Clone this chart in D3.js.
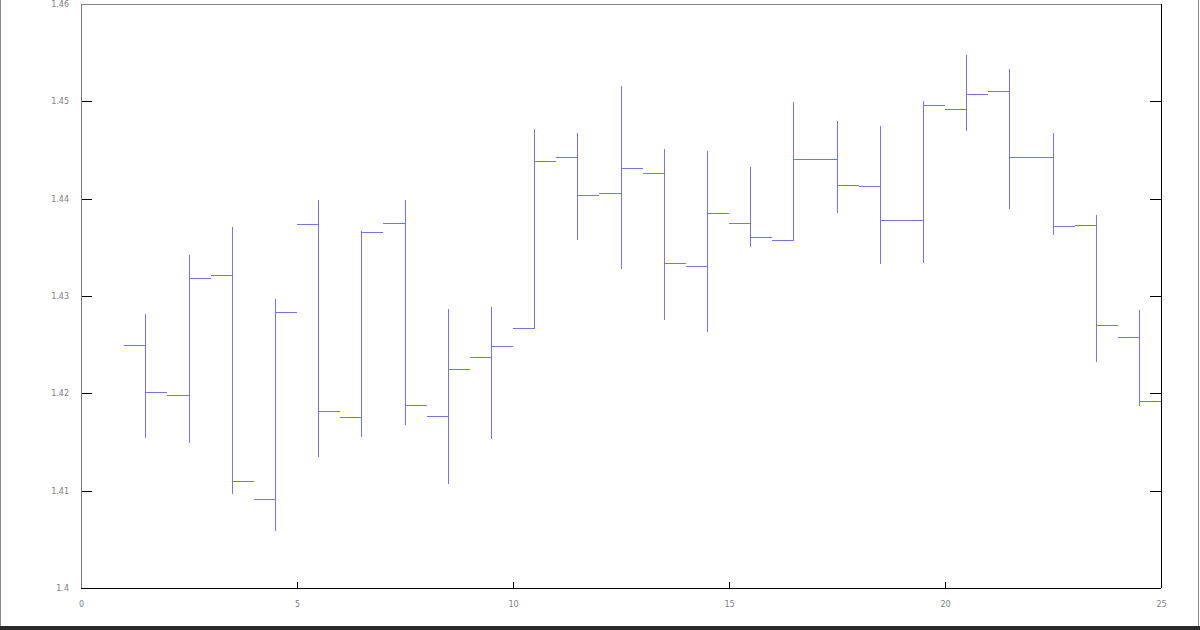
<html>
<head>
  <meta charset="utf-8">
  <title>OHLC bars</title>
  <script src="https://d3js.org/d3.v7.min.js"></script>
  <style>
    body { margin: 0; background: #fff; }
    .axis text { font-family: "DejaVu Sans", sans-serif; font-size: 8px; fill: #808080; }
    .axis path { display: none; }
    .axis line { stroke: #000; shape-rendering: crispEdges; }
  </style>
</head>
<body>
  <svg id="chart" width="1200" height="630"></svg>
  <script>
    // one bar per day: open tick on the left, close tick on the right
    var days  = [1, 2, 3, 4, 5, 6, 7, 8, 9, 10, 11, 12, 13, 14, 15, 16, 17, 18, 19, 20, 21, 22, 23, 24];
    var open  = [1.4249, 1.4198, 1.4321, 1.4091, 1.4373, 1.4175, 1.4374, 1.4176, 1.4237, 1.4267, 1.4442, 1.4405,
                 1.4426, 1.4330, 1.4375, 1.4357, 1.4440, 1.4413, 1.4378, 1.4492, 1.4510, 1.4442, 1.4372, 1.4257];
    var high  = [1.4281, 1.4342, 1.4371, 1.4297, 1.4399, 1.4367, 1.4399, 1.4287, 1.4289, 1.4472, 1.4467, 1.4516,
                 1.4451, 1.4449, 1.4433, 1.4499, 1.4480, 1.4475, 1.4500, 1.4548, 1.4533, 1.4467, 1.4383, 1.4286];
    var low   = [1.4154, 1.4149, 1.4097, 1.4059, 1.4135, 1.4155, 1.4167, 1.4107, 1.4153, 1.4267, 1.4358, 1.4328,
                 1.4275, 1.4263, 1.4350, 1.4357, 1.4385, 1.4333, 1.4334, 1.4470, 1.4389, 1.4363, 1.4232, 1.4187];
    var close = [1.4201, 1.4318, 1.4109, 1.4283, 1.4181, 1.4365, 1.4187, 1.4224, 1.4248, 1.4438, 1.4403, 1.4431,
                 1.4333, 1.4385, 1.4360, 1.4440, 1.4414, 1.4378, 1.4496, 1.4507, 1.4442, 1.4371, 1.4270, 1.4192];

    var xTicks = [0, 5, 10, 15, 20, 25];
    var yTicks = [1.4, 1.41, 1.42, 1.43, 1.44, 1.45, 1.46];
    var yTickLabels = ["1.4", "1.41", "1.42", "1.43", "1.44", "1.45", "1.46"];

    var data = days.map(function (d, i) {
      return { day: d, open: open[i], high: high[i], low: low[i], close: close[i] };
    });

    var margin = { top: 4, right: 39, bottom: 42, left: 81 },
      width = 1200 - margin.left - margin.right,
      height = 630 - margin.top - margin.bottom;

    var svg = d3.select("#chart");

    // outer window edges
    svg.append("line").attr("x1", 0.5).attr("x2", 0.5).attr("y1", 0).attr("y2", 626)
      .attr("stroke", "#8a8a8a");
    svg.append("line").attr("x1", 1198.5).attr("x2", 1198.5).attr("y1", 0).attr("y2", 626)
      .attr("stroke", "#8a8a8a");
    svg.append("rect").attr("x", 0).attr("y", 626).attr("width", 1200).attr("height", 4)
      .attr("fill", "#2a2a2a");

    var chart = svg.append("g")
      .attr("transform", "translate(" + margin.left + "," + margin.top + ")");

    var xScale = d3.scaleLinear().domain([0, 25]).range([0, width]);
    var yScale = d3.scaleLinear().domain([1.4, 1.46]).range([height, 0]);

    chart.append("g")
      .attr("class", "axis axis-y")
      .call(d3.axisLeft(yScale).tickValues(yTicks).tickSize(-11).tickPadding(12)
        .tickFormat(function (d, i) { return yTickLabels[i]; }));

    chart.append("g")
      .attr("class", "axis axis-y2")
      .attr("transform", "translate(" + width + ",0)")
      .call(d3.axisRight(yScale).tickValues(yTicks).tickSize(-11).tickFormat(""));

    chart.append("g")
      .attr("class", "axis axis-x")
      .attr("transform", "translate(0," + height + ")")
      .call(d3.axisBottom(xScale).tickValues(xTicks).tickSize(-6).tickPadding(13)
        .tickFormat(d3.format("d")));

    // frame
    var frame = chart.append("g").attr("shape-rendering", "crispEdges");
    frame.append("line").attr("x1", 0).attr("x2", width).attr("y1", 0).attr("y2", 0).attr("stroke", "#888");
    frame.append("line").attr("x1", 0).attr("x2", 0).attr("y1", 0).attr("y2", height).attr("stroke", "#777");
    frame.append("line").attr("x1", 0).attr("x2", width).attr("y1", height).attr("y2", height).attr("stroke", "#000");
    frame.append("line").attr("x1", width).attr("x2", width).attr("y1", 0).attr("y2", height).attr("stroke", "#000");

    var bars = chart.selectAll(".bar")
      .data(data)
      .enter()
      .append("g")
      .attr("class", "bar")
      .attr("stroke", "#7272ff")
      .attr("stroke-width", 1)
      .attr("shape-rendering", "crispEdges");

    bars.append("line")
      .attr("x1", function (d) { return xScale(d.day + 0.5); })
      .attr("x2", function (d) { return xScale(d.day + 0.5); })
      .attr("y1", function (d) { return yScale(d.low); })
      .attr("y2", function (d) { return yScale(d.high); });

    bars.append("line")
      .attr("x1", function (d) { return xScale(d.day); })
      .attr("x2", function (d) { return xScale(d.day + 0.5); })
      .attr("y1", function (d) { return yScale(d.open); })
      .attr("y2", function (d) { return yScale(d.open); });

    bars.append("line")
      .attr("x1", function (d) { return xScale(d.day + 0.5); })
      .attr("x2", function (d) { return xScale(d.day + 1); })
      .attr("y1", function (d) { return yScale(d.close); })
      .attr("y2", function (d) { return yScale(d.close); });
  </script>
</body>
</html>
